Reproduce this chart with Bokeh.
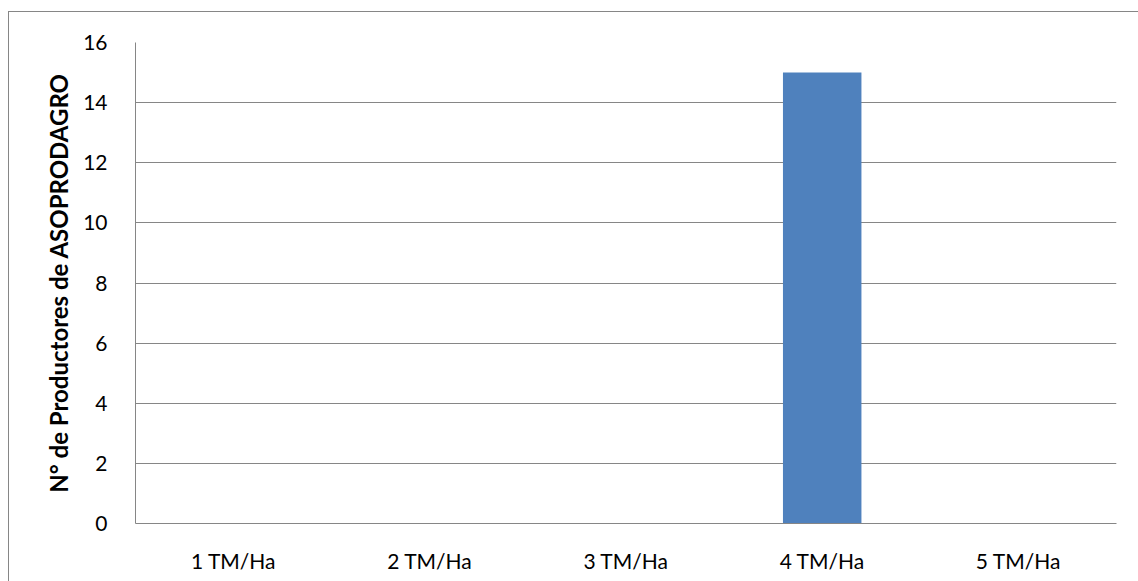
from bokeh.plotting import figure
from bokeh.models import ColumnDataSource
from bokeh.embed import file_html
from bokeh.resources import INLINE

categories = ["1 TM/Ha", "2 TM/Ha", "3 TM/Ha", "4 TM/Ha", "5 TM/Ha"]
values = [0, 0, 0, 15, 0]
y_ticks = [0, 2, 4, 6, 8, 10, 12, 14, 16]
y_title = "N° de Productores de ASOPRODAGRO"

src = ColumnDataSource(dict(cat=categories, val=values))

OX, OY = 8, 11  # outer chart border offset
p = figure(x_range=categories, y_range=(0, 16), width=1138 - OX, height=581 - OY,
           output_backend="svg", toolbar_location=None,
           min_border_left=134 - OX, min_border_right=23, min_border_top=41 - OY,
           min_border_bottom=59, margin=(OY, 0, 0, OX),
           styles={"border-left": "1px solid #868686", "border-top": "1px solid #868686"})
p.vbar(x="cat", top="val", width=0.40, source=src, color="#4F81BD", line_color=None)

p.outline_line_color = None
p.background_fill_color = "white"
p.border_fill_color = "white"
p.xgrid.grid_line_color = None
p.ygrid.grid_line_color = "#868686"
p.ygrid.grid_line_width = 1
p.yaxis.ticker = y_ticks

for ax in (p.xaxis[0], p.yaxis[0]):
    ax.axis_line_color = "#868686"
    ax.axis_line_width = 1
    ax.major_tick_line_color = None
    ax.minor_tick_line_color = None
    ax.major_label_text_font = "Lato"
    ax.major_label_text_font_size = "21px"
    ax.major_label_text_color = "#000000"

p.yaxis.major_label_standoff = 22
p.xaxis.major_label_standoff = 18
p.yaxis.axis_label = y_title
p.yaxis.axis_label_text_font = "Lato"
p.yaxis.axis_label_text_font_style = "bold"
p.yaxis.axis_label_text_font_size = "24px"
p.yaxis.axis_label_text_color = "#000000"
p.yaxis.axis_label_standoff = 7

open("out.html", "w").write(file_html(p, INLINE))
